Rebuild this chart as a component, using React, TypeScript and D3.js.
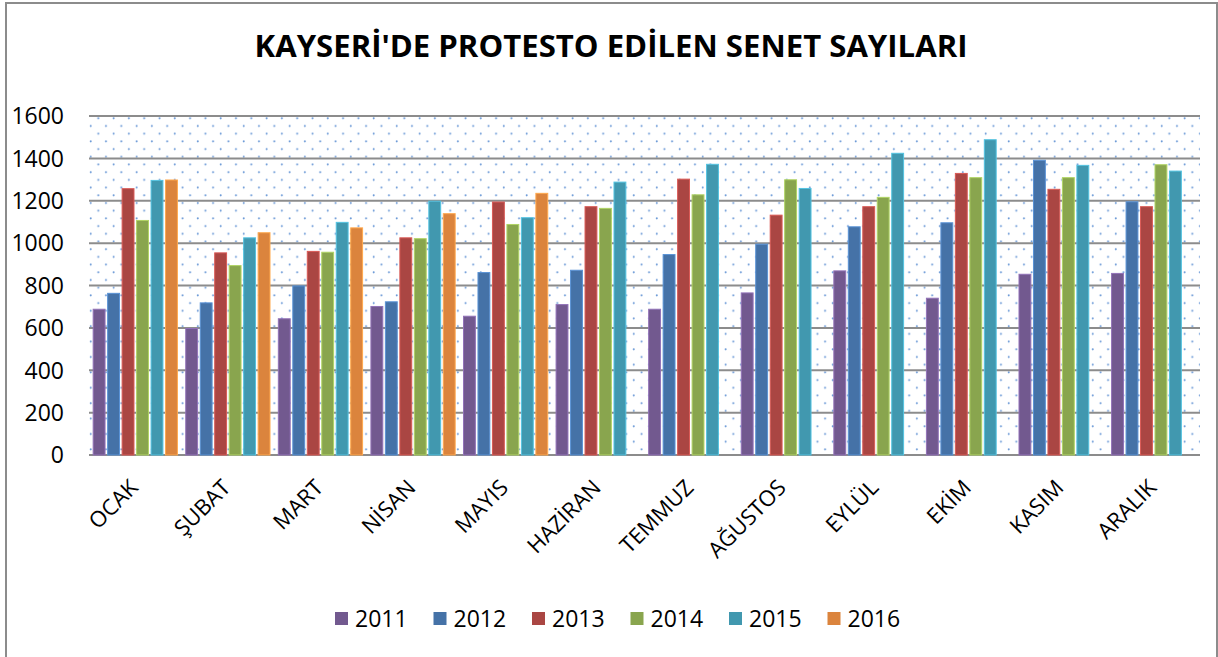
import React from 'react';
import * as d3 from 'd3';

const months = ['OCAK', 'ŞUBAT', 'MART', 'NİSAN', 'MAYIS', 'HAZİRAN', 'TEMMUZ', 'AĞUSTOS', 'EYLÜL', 'EKİM', 'KASIM', 'ARALIK'];
const years = ['2011', '2012', '2013', '2014', '2015', '2016'];
const colors = ['#72598f', '#4572a7', '#aa4643', '#89a54e', '#4198af', '#db843d'];

const v2011 = [688, 597, 643, 701, 655, 710, 688, 765, 869, 740, 853, 857];
const v2012 = [763, 718, 798, 723, 861, 872, 946, 995, 1077, 1096, 1391, 1195];
const v2013 = [1257, 954, 961, 1025, 1194, 1172, 1302, 1132, 1172, 1329, 1254, 1172];
const v2014 = [1107, 894, 957, 1021, 1088, 1164, 1228, 1299, 1216, 1309, 1309, 1370];
const v2015 = [1296, 1025, 1098, 1198, 1120, 1288, 1372, 1258, 1424, 1488, 1367, 1340];
const v2016 = [1298, 1049, 1072, 1139, 1235, null, null, null, null, null, null, null];
const series = [v2011, v2012, v2013, v2014, v2015, v2016];

const yTicks = [0, 200, 400, 600, 800, 1000, 1200, 1400, 1600];

const W = 1218;
const H = 657;
const plot = { left: 89, right: 1200, top: 116, bottom: 455 };
const font = '"Open Sans", "DejaVu Sans", sans-serif';

export default function App() {
  const x0 = d3.scaleBand<string>()
    .domain(months)
    .range([plot.left, plot.right])
    .paddingInner(0.09)
    .paddingOuter(0.045);

  const x1 = d3.scaleBand<string>()
    .domain(years)
    .range([0, x0.bandwidth()])
    .paddingInner(0.18);

  const y = d3.scaleLinear().domain([0, 1600]).range([plot.bottom, plot.top]);

  return (
    <svg width={W} height={H} style={{ position: 'absolute', left: 0, top: 0, background: '#fff' }}>
      <defs>
        <pattern id="dots" patternUnits="userSpaceOnUse" x={89} y={117} width={15.3} height={15.4}>
          <circle cx={9.3} cy={1.3} r={1} fill="#4f86cf" opacity={0.85} />
          <circle cx={1.7} cy={9.0} r={1} fill="#4f86cf" opacity={0.85} />
        </pattern>
      </defs>

      {/* chart frame */}
      <rect x={6} y={3} width={1211} height={670} fill="#fff" stroke="#8c8c8c" strokeWidth={2} />

      <text x={611} y={57} textAnchor="middle" fontFamily={font} fontWeight="bold" fontSize={30}
        textLength={713} lengthAdjust="spacingAndGlyphs" fill="#000">
        KAYSERİ'DE PROTESTO EDİLEN SENET SAYILARI
      </text>

      {/* plot background */}
      <rect x={plot.left} y={plot.top} width={plot.right - plot.left} height={plot.bottom - plot.top} fill="url(#dots)" />

      {/* gridlines + y labels */}
      {yTicks.map(t => (
        <g key={t}>
          <line x1={plot.left} x2={plot.right} y1={y(t)} y2={y(t)} stroke="#8c8c8c" strokeWidth={2} />
          <text x={64} y={y(t)} dy="0.36em" textAnchor="end" fontFamily={font} fontSize={23} fill="#000">{t}</text>
        </g>
      ))}

      {/* bars */}
      {months.map((m, i) => (
        <g key={m} transform={`translate(${x0(m)},0)`}>
          {series.map((s, j) => {
            const v = s[i];
            if (v == null) return null;
            return (
              <rect key={years[j]} x={x1(years[j])} y={y(v)} width={x1.bandwidth()} height={y(0) - y(v)}
                fill={colors[j]} stroke={d3.color(colors[j])!.brighter(0.7).toString()} strokeWidth={1} />
            );
          })}
        </g>
      ))}

      {/* x labels */}
      {months.map(m => {
        const cx = (x0(m) as number) + x0.bandwidth() / 2 + 4;
        return (
          <text key={m} transform={`translate(${cx},489) rotate(-45)`} textAnchor="end"
            fontFamily={font} fontSize={22} fill="#000">{m}</text>
        );
      })}

      {/* legend */}
      {years.map((yr, j) => (
        <g key={yr} transform={`translate(${335 + j * 98.5},0)`}>
          <rect x={0} y={612} width={13} height={13} fill={colors[j]} />
          <text x={20} y={627} fontFamily={font} fontSize={23} fill="#000">{yr}</text>
        </g>
      ))}
    </svg>
  );
}
